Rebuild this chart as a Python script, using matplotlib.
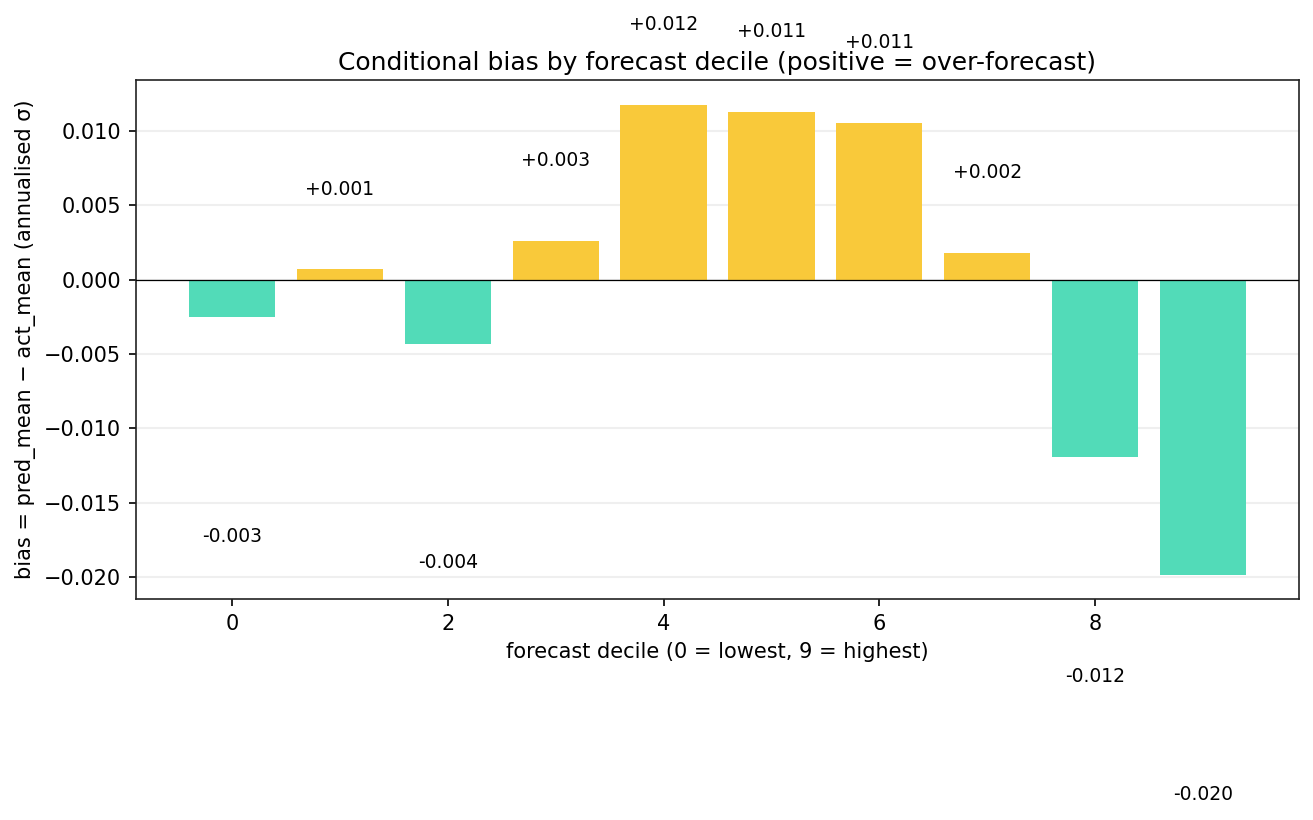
import matplotlib
matplotlib.use("Agg")
import matplotlib.pyplot as plt
import numpy as np

deciles = list(range(10))
bias = [-0.00255, 0.00068, -0.0043, 0.00262, 0.01174, 0.01125, 0.01052, 0.00182, -0.01193, -0.01988]

pos_color = "#F9C93A"
neg_color = "#52DBB8"

fig = plt.figure(figsize=(1313/150, 820/150), dpi=150)
ax = fig.add_axes([136/1313, 1 - 599/820, (1299-136)/1313, (599-80)/820])

colors = [pos_color if v >= 0 else neg_color for v in bias]
ax.bar(deciles, bias, width=0.8, color=colors, zorder=2)
ax.axhline(0, color="black", lw=0.6, zorder=3)
ax.grid(axis="y", color="#efefef", lw=1, zorder=0)
ax.set_axisbelow(True)

for x, v in zip(deciles, bias):
    off = 0.0054 if v >= 0 else -0.01475
    ax.text(x, v + off, f"{v:+.3f}", ha="center", va="center", fontsize=9, clip_on=False)

ax.set_xlim(-0.89, 9.89)
ax.set_ylim(-0.02148, 0.01342)
ax.set_xticks([0, 2, 4, 6, 8])
ax.tick_params(labelsize=10)
ax.set_title("Conditional bias by forecast decile (positive = over-forecast)", fontsize=12, pad=5)
ax.set_xlabel("forecast decile (0 = lowest, 9 = highest)", fontsize=10)
ax.set_ylabel("bias = pred_mean − act_mean (annualised σ)", fontsize=10)
for s in ax.spines.values():
    s.set_color("#222222")

fig.savefig("out.png", dpi=150)
